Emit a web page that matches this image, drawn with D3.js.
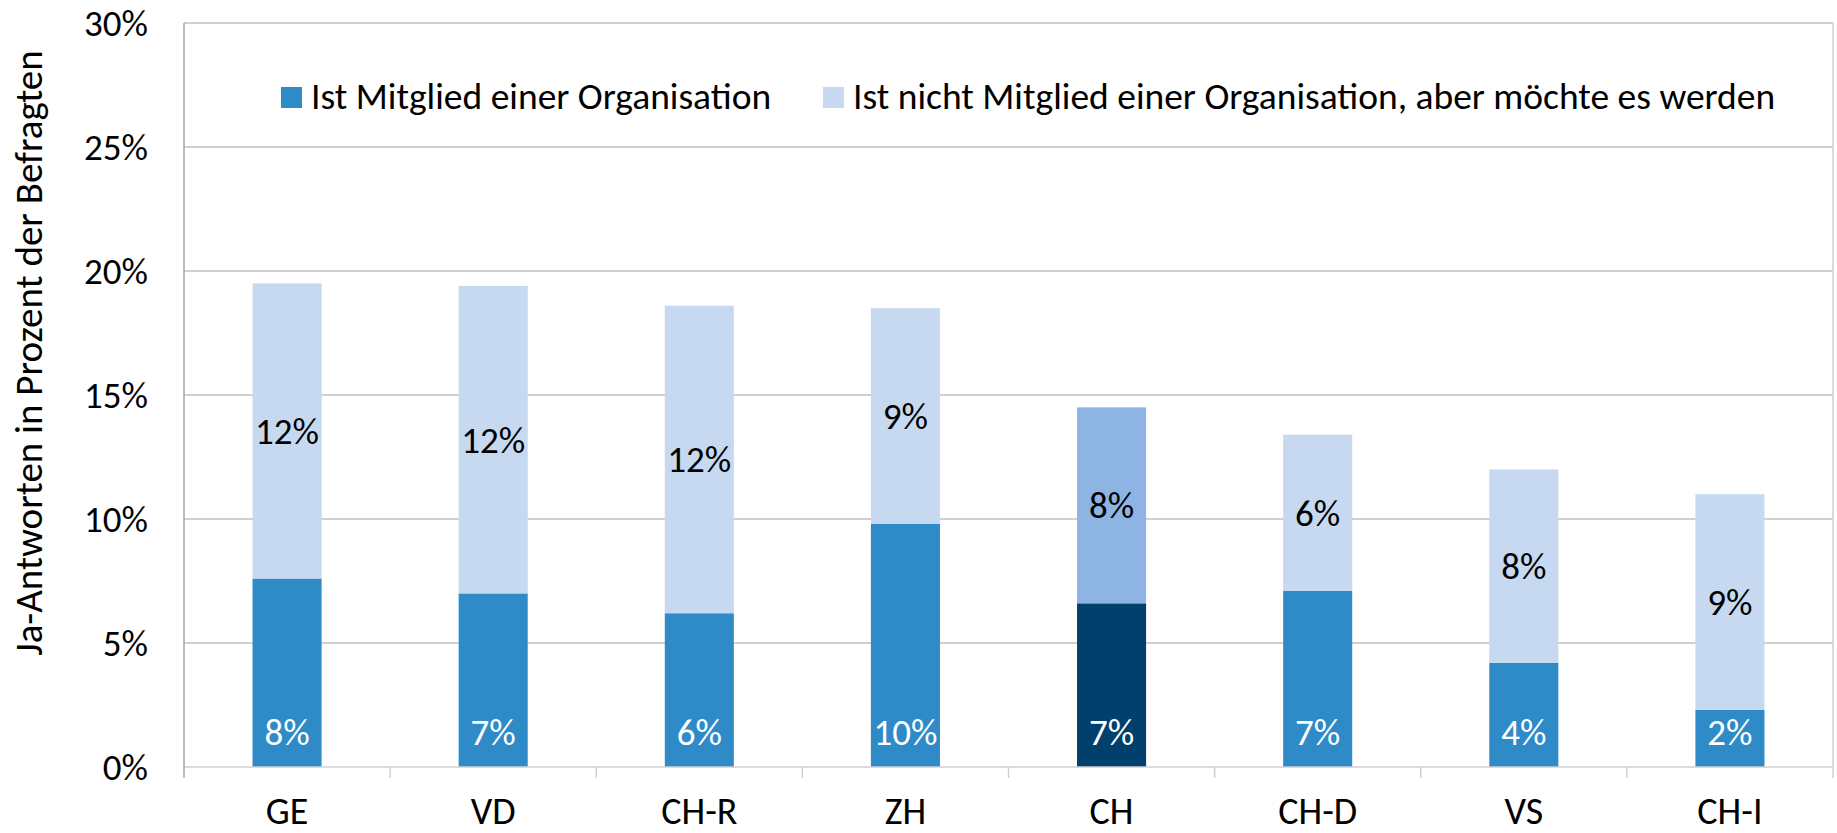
<!DOCTYPE html>
<html>
<head>
<meta charset="utf-8">
<script src="https://cdn.jsdelivr.net/npm/d3@7"></script>
<style>
  body { margin: 0; background: #fff; }
  text { font-family: Carlito, Lato, "Open Sans", sans-serif; }
</style>
</head>
<body>
<svg id="chart"></svg>
<script>
const width = 1837;
const height = 833;

// Data (percent of respondents)
const categories = ["GE", "VD", "CH-R", "ZH", "CH", "CH-D", "VS", "CH-I"];
const member = [7.6, 7.0, 6.2, 9.8, 6.6, 7.1, 4.2, 2.3];
const nonMember = [11.9, 12.4, 12.4, 8.7, 7.9, 6.3, 7.8, 8.7];
const yTicks = [0, 5, 10, 15, 20, 25, 30];
const seriesNames = ["Ist Mitglied einer Organisation", "Ist nicht Mitglied einer Organisation, aber möchte es werden"];
const yTitle = "Ja-Antworten in Prozent der Befragten";

const colors = { member: "#2E8BC8", nonMember: "#C6D9F1" };
const highlight = { category: "CH", member: "#00406C", nonMember: "#8DB4E2" };

const margin = { top: 23, right: 4, bottom: 66, left: 184 };
const fs = { tick: 37, label: 37, legend: 37.5, cat: 38, title: 39 };

const svg = d3.select("#chart")
    .attr("width", width)
    .attr("height", height);

const x = d3.scaleBand()
    .domain(categories)
    .range([margin.left, width - margin.right])
    .paddingInner(0.665)
    .paddingOuter(0.3325);

const y = d3.scaleLinear()
    .domain([0, 30])
    .range([height - margin.bottom, margin.top]);

const rows = categories.map((c, i) => ({ cat: c, member: member[i], nonMember: nonMember[i] }));

// Gridlines
svg.append("g")
    .selectAll("line")
    .data(yTicks.filter(d => d > 0))
    .join("line")
    .attr("x1", margin.left)
    .attr("x2", width - margin.right)
    .attr("y1", d => y(d))
    .attr("y2", d => y(d))
    .attr("stroke", "#C0C0C0")
    .attr("stroke-width", 1.5);

// Y tick labels
svg.append("g")
    .selectAll("text")
    .data(yTicks)
    .join("text")
    .attr("x", 148)
    .attr("y", d => y(d))
    .attr("dy", "0.35em")
    .attr("text-anchor", "end")
    .style("font-size", fs.tick + "px")
    .attr("fill", "#000")
    .text(d => d + "%");

// Bars
const bars = svg.append("g");
bars.selectAll(".member")
    .data(rows)
    .join("rect")
    .attr("class", "member")
    .attr("x", d => x(d.cat))
    .attr("width", x.bandwidth())
    .attr("y", d => y(d.member))
    .attr("height", d => y(0) - y(d.member))
    .attr("fill", d => d.cat === highlight.category ? highlight.member : colors.member);

bars.selectAll(".nonmember")
    .data(rows)
    .join("rect")
    .attr("class", "nonmember")
    .attr("x", d => x(d.cat))
    .attr("width", x.bandwidth())
    .attr("y", d => y(d.member + d.nonMember))
    .attr("height", d => y(d.member) - y(d.member + d.nonMember))
    .attr("fill", d => d.cat === highlight.category ? highlight.nonMember : colors.nonMember);

// Axis lines
const step = x.step();
svg.append("line")
    .attr("x1", margin.left).attr("x2", width - margin.right)
    .attr("y1", y(0)).attr("y2", y(0))
    .attr("stroke", "#D0D0D0").attr("stroke-width", 1.5);

svg.append("g")
    .selectAll("line")
    .data(d3.range(categories.length + 1))
    .join("line")
    .attr("x1", i => margin.left + i * step)
    .attr("x2", i => margin.left + i * step)
    .attr("y1", i => (i === 0 || i === categories.length) ? margin.top : y(0))
    .attr("y2", y(0) + 11)
    .attr("stroke", i => i === 0 ? "#A6A6A6" : "#D0D0D0")
    .attr("stroke-width", 1.5);

// Data labels
svg.append("g")
    .selectAll("text")
    .data(rows)
    .join("text")
    .attr("x", d => x(d.cat) + x.bandwidth() / 2)
    .attr("y", y(0) - 22)
    .attr("text-anchor", "middle")
    .style("font-size", fs.label + "px")
    .attr("fill", "#fff")
    .text(d => Math.round(d.member) + "%");

svg.append("g")
    .selectAll("text")
    .data(rows)
    .join("text")
    .attr("x", d => x(d.cat) + x.bandwidth() / 2)
    .attr("y", d => (y(d.member) + y(d.member + d.nonMember)) / 2)
    .attr("dy", "0.35em")
    .attr("text-anchor", "middle")
    .style("font-size", fs.label + "px")
    .attr("fill", "#000")
    .text(d => Math.round(d.nonMember) + "%");

// X labels
svg.append("g")
    .selectAll("text")
    .data(categories)
    .join("text")
    .attr("x", d => x(d) + x.bandwidth() / 2)
    .attr("y", 824)
    .attr("text-anchor", "middle")
    .style("font-size", fs.cat + "px")
    .attr("fill", "#000")
    .text(d => d);

// Y title
svg.append("text")
    .attr("transform", "translate(42,353) rotate(-90)")
    .attr("text-anchor", "middle")
    .style("font-size", fs.title + "px")
    .attr("fill", "#000")
    .text(yTitle);

// Legend
const legendItems = [
    { name: seriesNames[0], color: colors.member, x: 281 },
    { name: seriesNames[1], color: colors.nonMember, x: 823 }
];
const legend = svg.append("g");
legend.selectAll("rect")
    .data(legendItems)
    .join("rect")
    .attr("x", d => d.x)
    .attr("y", 87)
    .attr("width", 21)
    .attr("height", 21)
    .attr("fill", d => d.color);

legend.selectAll("text")
    .data(legendItems)
    .join("text")
    .attr("x", d => d.x + 30)
    .attr("y", 109)
    .style("font-size", fs.legend + "px")
    .attr("fill", "#000")
    .text(d => d.name);
</script>
</body>
</html>
